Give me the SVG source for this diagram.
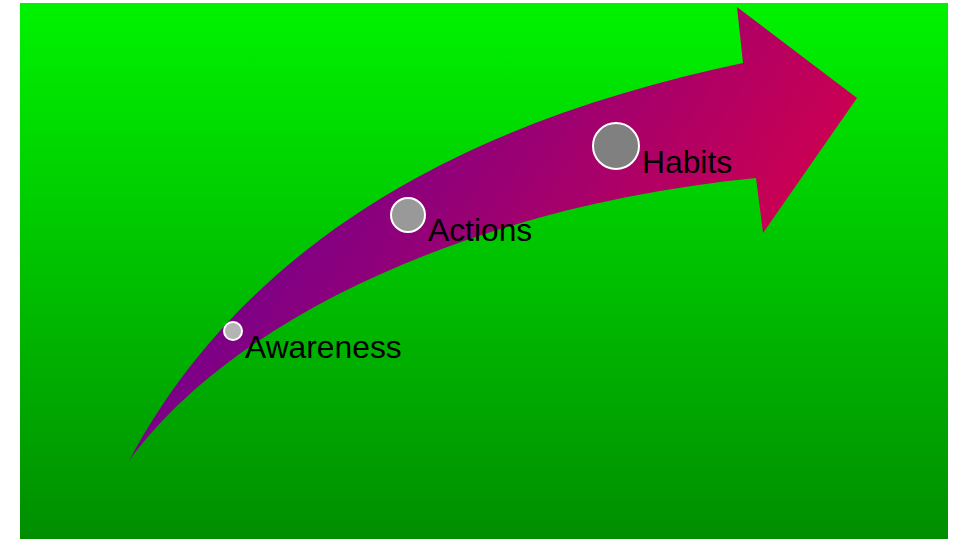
<svg xmlns="http://www.w3.org/2000/svg" width="955" height="539" viewBox="0 0 955 539">
<defs>
<linearGradient id="bg" x1="0" y1="0" x2="0" y2="1">
<stop offset="0" stop-color="#00f300"/>
<stop offset="1" stop-color="#008e00"/>
</linearGradient>
<linearGradient id="arr" gradientUnits="userSpaceOnUse" x1="350" y1="20" x2="780" y2="300">
<stop offset="0" stop-color="#72008e"/>
<stop offset="1" stop-color="#d2004e"/>
</linearGradient>
<style>
.dot{stroke:#ffffff;stroke-width:2}
.lbl{font-family:"Liberation Sans",Arial,sans-serif;font-size:31.8px;fill:#000000}
</style>
</defs>
<rect x="0" y="0" width="955" height="539" fill="#ffffff"/>
<rect x="20" y="3" width="928" height="536" fill="url(#bg)"/>
<g id="arrow">
<path d="M129,461 C253,229 486,117 743,63 L737,7 L857,98 L763,233 L756,178 C480,205 235,315 129,461 Z" fill="url(#arr)"/>
</g>
<g id="awareness">
<circle class="dot" cx="233" cy="331" r="9" fill="#b4b4b4"/>
<text class="lbl" x="245" y="358">Awareness</text>
</g>
<g id="actions">
<circle class="dot" cx="408" cy="215" r="17" fill="#999999"/>
<text class="lbl" x="428" y="241">Actions</text>
</g>
<g id="habits">
<circle class="dot" cx="616" cy="146" r="23" fill="#808080"/>
<text class="lbl" x="642" y="173">Habits</text>
</g>
</svg>
